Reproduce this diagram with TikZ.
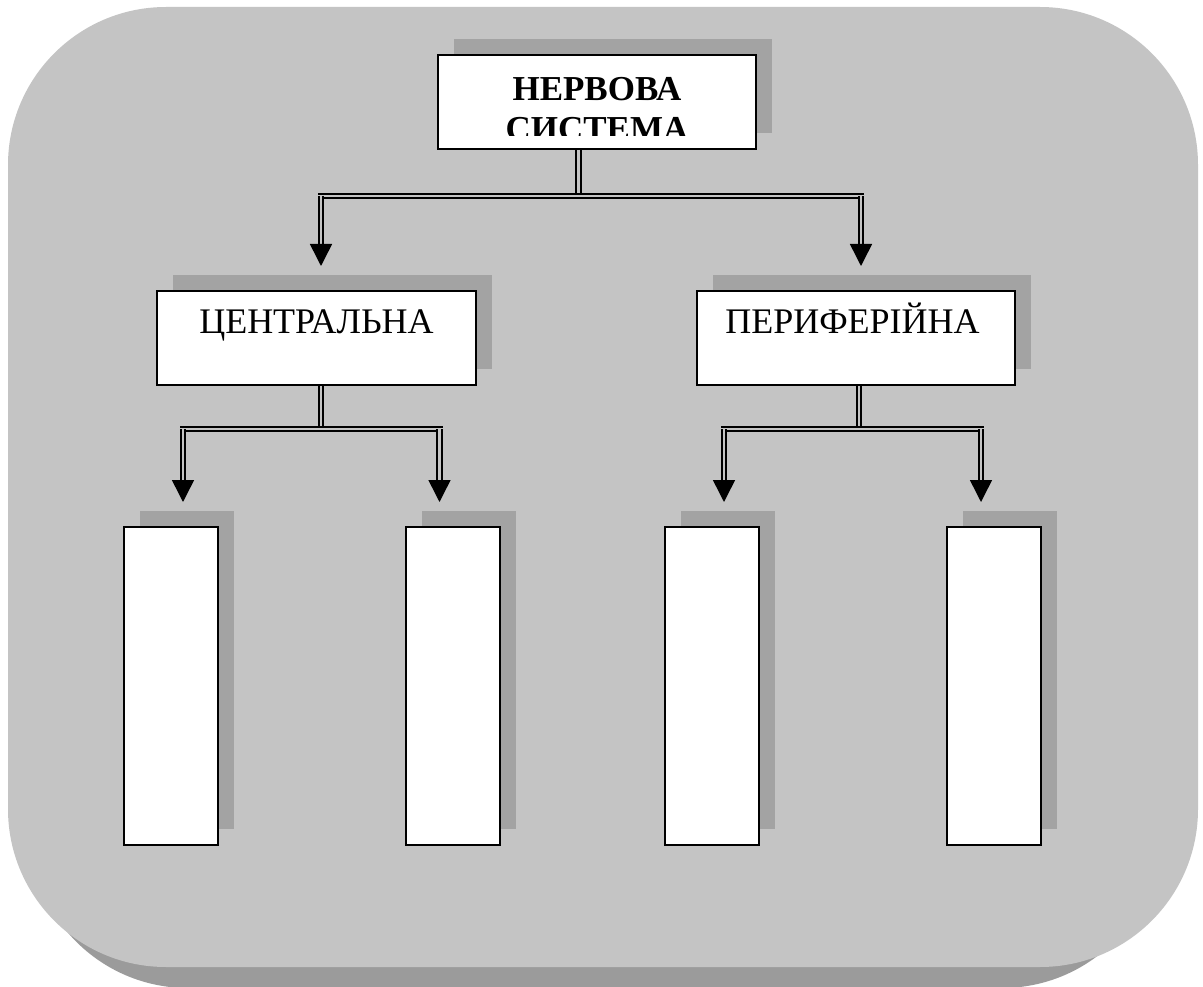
\documentclass[tikz,border=0pt]{standalone}
\usepackage{fontspec}
\setmainfont{Liberation Serif}
\usetikzlibrary{
  arrows.meta, % for the Triangle arrow tip
  positioning, % for relative positioning of the boxes
  shadows % for the offset box shadows
}
\definecolor{panelgray}{HTML}{C4C4C4}
\definecolor{shadowgray}{HTML}{A3A3A3}
\definecolor{groundgray}{HTML}{9B9B9B}
\tikzset{
  box/.style={ % style for every white box
    rectangle,draw,line width=2pt, % drawn as a thick rectangle
    fill=white,
    inner sep=0pt, % no padding, the size is fixed below
    drop shadow={shadow xshift=16pt,shadow yshift=16pt,fill=shadowgray,opacity=1}, % flat grey shadow up and right
  },
  wide/.style={ % style for the three upper boxes
    box,
    minimum width=318pt,minimum height=94pt,
  },
  leaf/.style={ % style for the four empty boxes
    box,
    minimum width=94pt,minimum height=318pt,
    node distance=0pt and 186pt, % spacing between the empty boxes
  },
  link/.style={ % style for the double connectors
    double=panelgray, % gap between the two lines shows the panel
    double distance=2.6pt,
    line width=1.9pt,
  },
  tip/.style={ % style for the arrow heads
    -{Triangle[width=22pt,length=22pt]},
    line width=1.5pt,
  },
  label/.style={ % style for the box texts
    inner sep=0pt,
    font=\fontsize{36}{40}\selectfont,
  },
}
\begin{document}
\begin{tikzpicture}[x=1pt,y=-1pt]
\useasboundingbox (0,0) rectangle (1203,987);
\clip (0,0) rectangle (1203,987);
\fill[white] (0,0) rectangle (1203,987);
% panel and its shadow
\fill[groundgray, rounded corners=158pt] (30,27) rectangle (1160,988);
\fill[panelgray, rounded corners=158pt] (8,7) rectangle (1198,967);
% boxes
\node[wide] (ns) at (597,102) {};
\node[wide, below=140pt of ns, xshift=-280.5pt, minimum width=319pt] (cn) {};
\node[wide, right=219pt of cn] (pn) {};
\node[leaf, below=140pt of cn, xshift=-145.5pt] (b1) {};
\node[leaf, right=of b1] (b2) {};
\node[leaf, right=163pt of b2] (b3) {};
\node[leaf, right=of b3] (b4) {};
% texts
\begin{scope}
\clip (ns.north west) rectangle ([yshift=14pt]ns.south east);
\node[label, font=\fontsize{35}{40}\selectfont\bfseries, align=center, anchor=base] (nstext) at (597,141) {НЕРВОВА\\СИСТЕМА};
\end{scope}
\node[label, anchor=base] (cntext) at (316.5,334) {ЦЕНТРАЛЬНА};
\node[label, anchor=base] (pntext) at (852.5,334) {ПЕРИФЕРІЙНА};
% junctions and arrow ends
\coordinate (jn) at (578.5,196);
\coordinate (jc) at (321,429);
\coordinate (jp) at (859,429);
\coordinate (tcn) at ([xshift=4.5pt,yshift=24pt]cn.north);
\coordinate (tpn) at ([xshift=5pt,yshift=24pt]pn.north);
\coordinate (tb1) at ([xshift=12pt,yshift=24pt]b1.north);
\coordinate (tb2) at ([xshift=-13.5pt,yshift=24pt]b2.north);
\coordinate (tb3) at ([xshift=12pt,yshift=24pt]b3.north);
\coordinate (tb4) at ([xshift=-13pt,yshift=24pt]b4.north);
% connectors
\draw[link] (ns.south -| jn) -- (jn);
\draw[link] ([xshift=-3pt]jn -| tcn) -- ([xshift=3pt]jn -| tpn);
\draw[link] (jn -| tcn) -- ([yshift=22pt]tcn);
\draw[link] (jn -| tpn) -- ([yshift=22pt]tpn);
\draw[tip] ([yshift=22pt]tcn) -- (tcn);
\draw[tip] ([yshift=22pt]tpn) -- (tpn);
\draw[link] (cn.south -| jc) -- (jc);
\draw[link] ([xshift=-3pt]jc -| tb1) -- ([xshift=3pt]jc -| tb2);
\draw[link] (jc -| tb1) -- ([yshift=22pt]tb1);
\draw[link] (jc -| tb2) -- ([yshift=22pt]tb2);
\draw[tip] ([yshift=22pt]tb1) -- (tb1);
\draw[tip] ([yshift=22pt]tb2) -- (tb2);
\draw[link] (pn.south -| jp) -- (jp);
\draw[link] ([xshift=-3pt]jp -| tb3) -- ([xshift=3pt]jp -| tb4);
\draw[link] (jp -| tb3) -- ([yshift=22pt]tb3);
\draw[link] (jp -| tb4) -- ([yshift=22pt]tb4);
\draw[tip] ([yshift=22pt]tb3) -- (tb3);
\draw[tip] ([yshift=22pt]tb4) -- (tb4);
\end{tikzpicture}
\end{document}
